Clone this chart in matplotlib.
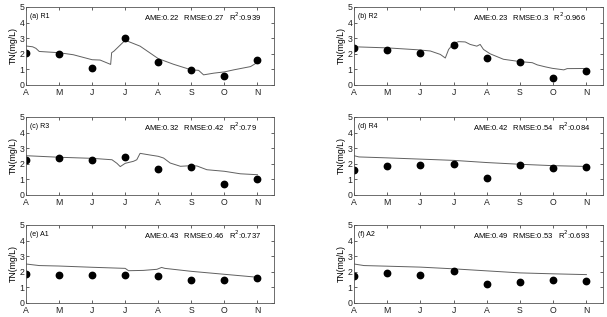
import matplotlib
matplotlib.use("Agg")
import matplotlib.pyplot as plt

plt.rcParams['font.family'] = ['Liberation Sans', 'DejaVu Sans']

months = ['A', 'M', 'J', 'J', 'A', 'S', 'O', 'N']
obs_t = [0, 1, 2, 3, 4, 5, 6, 7]

labels = ['(a) R1', '(b) R2', '(c) R3', '(d) R4', '(e) A1', '(f) A2']
stats = ['AME:0.22   RMSE:0.27   R$^2$:0.939',
         'AME:0.23   RMSE:0.3   R$^2$:0.966',
         'AME:0.32   RMSE:0.42   R$^2$:0.79',
         'AME:0.42   RMSE:0.54   R$^2$:0.084',
         'AME:0.43   RMSE:0.46   R$^2$:0.737',
         'AME:0.49   RMSE:0.53   R$^2$:0.693']

obs_r1 = [2.03, 1.97, 1.12, 3.03, 1.46, 0.93, 0.55, 1.61]
obs_r2 = [2.35, 2.25, 2.06, 2.58, 1.72, 1.46, 0.47, 0.91]
obs_r3 = [2.26, 2.39, 2.26, 2.41, 1.68, 1.81, 0.73, 1.03]
obs_r4 = [1.62, 1.85, 1.92, 1.96, 1.10, 1.92, 1.75, 1.81]
obs_a1 = [1.85, 1.82, 1.78, 1.80, 1.76, 1.46, 1.50, 1.61]
obs_a2 = [1.72, 1.93, 1.82, 2.04, 1.20, 1.35, 1.48, 1.44]

sim_t_r1 = [0, 0.2, 0.3, 0.4, 1.0, 1.43, 2.0, 2.24, 2.56, 2.59, 2.66, 3.0, 3.45,
            4.0, 4.46, 5.0, 5.22, 5.37, 5.68, 6.0, 6.28, 6.79, 7.0]
sim_v_r1 = [2.5, 2.45, 2.35, 2.15, 2.07, 1.94, 1.62, 1.6, 1.32, 2.07, 2.17, 2.87, 2.49,
            1.69, 1.33, 0.97, 0.94, 0.65, 0.76, 0.84, 0.97, 1.18, 1.45]

sim_t_r2 = [0, 1.0, 1.9, 2.3, 2.6, 2.75, 2.85, 3.0, 3.15, 3.35, 3.5, 3.7, 3.8, 3.9,
            4.1, 4.5, 5.0, 5.37, 5.52, 5.77, 5.97, 6.32, 6.42, 7.0]
sim_v_r2 = [2.45, 2.38, 2.26, 2.18, 1.96, 1.73, 2.28, 2.66, 2.78, 2.76, 2.6, 2.49, 2.6, 2.28,
            2.0, 1.65, 1.5, 1.43, 1.29, 1.16, 1.07, 0.97, 1.05, 1.06]

sim_t_r3 = [0, 1.0, 2.0, 2.6, 2.75, 2.85, 3.0, 3.25, 3.35, 3.45, 3.76, 4.0, 4.16,
            4.36, 4.67, 5.0, 5.17, 5.47, 6.0, 6.48, 7.0]
sim_v_r3 = [2.52, 2.42, 2.35, 2.26, 2.03, 1.82, 2.03, 2.16, 2.26, 2.67, 2.56, 2.48, 2.37,
            2.05, 1.84, 1.88, 1.86, 1.62, 1.52, 1.36, 1.3]

sim_t_r4 = [0, 0.15, 1, 2, 3, 4, 5, 6, 7]
sim_v_r4 = [2.52, 2.44, 2.38, 2.3, 2.22, 2.08, 1.97, 1.88, 1.83]

sim_t_a1 = [0, 0.4, 1, 2, 3, 3.1, 3.55, 3.96, 4.1, 4.2, 5, 6, 7]
sim_v_a1 = [2.5, 2.4, 2.37, 2.29, 2.22, 2.07, 2.09, 2.16, 2.28, 2.22, 2.03, 1.84, 1.65]

sim_t_a2 = [0, 0.3, 1, 2, 3, 4, 5, 6, 7]
sim_v_a2 = [2.5, 2.4, 2.36, 2.3, 2.19, 2.06, 1.93, 1.87, 1.82]

obs_all = [obs_r1, obs_r2, obs_r3, obs_r4, obs_a1, obs_a2]
sim_t_all = [sim_t_r1, sim_t_r2, sim_t_r3, sim_t_r4, sim_t_a1, sim_t_a2]
sim_v_all = [sim_v_r1, sim_v_r2, sim_v_r3, sim_v_r4, sim_v_a1, sim_v_a2]

W, H = 607, 317
fig = plt.figure(figsize=(W / 100, H / 100), dpi=100)

col_left = [26, 354]
col_w = [248, 249]
row_top = [7, 117, 225]
row_h = 78

for i in range(6):
    r, c = divmod(i, 2)
    ax = fig.add_axes([col_left[c] / W, 1 - (row_top[r] + row_h) / H,
                       col_w[c] / W, row_h / H])
    ax.plot(sim_t_all[i], sim_v_all[i], color='#606060', lw=0.7)
    ax.plot(obs_t, obs_all[i], 'o', color='black', ms=4.6, mec='black')
    ax.set_xlim(0, 7.5)
    ax.set_ylim(0, 5)
    ax.set_xticks(obs_t)
    ax.set_xticklabels(months)
    ax.set_yticks([0, 1, 2, 3, 4, 5])
    ax.tick_params(direction='in', length=2, width=0.5, top=True, right=True,
                   labelsize=6.3, colors='#222222')
    ax.tick_params(axis='x', pad=2.2)
    ax.tick_params(axis='y', pad=1.2)
    for s in ax.spines.values():
        s.set_linewidth(0.6)
        s.set_color('#555555')
    ax.set_ylabel('TN(mg/L)', fontsize=6.3, labelpad=1)
    ax.text(0.015, 0.88, labels[i], transform=ax.transAxes, fontsize=5.0,
            ha='left', va='center')
    ax.text(0.477, 0.88, stats[i], transform=ax.transAxes, fontsize=5.5,
            ha='left', va='center')

fig.savefig('out.png', dpi=100)
